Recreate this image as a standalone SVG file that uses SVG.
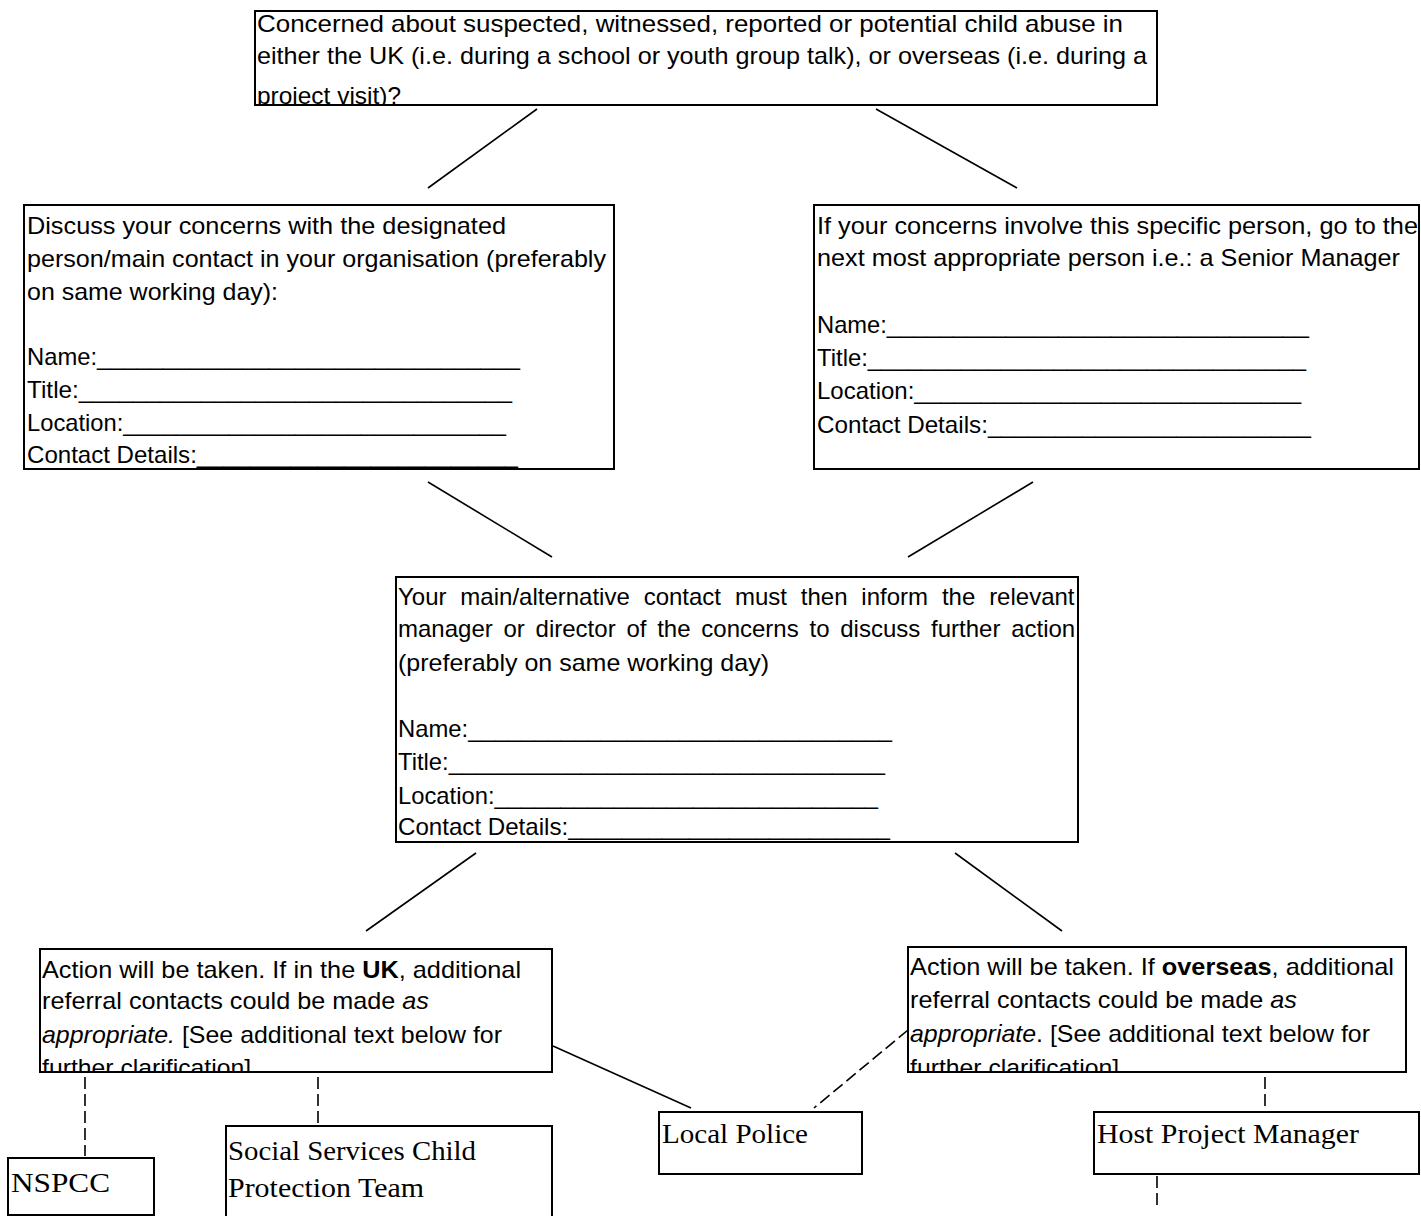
<svg xmlns="http://www.w3.org/2000/svg" width="1421" height="1216" viewBox="0 0 1421 1216">
<style>
.box{fill:#fff;stroke:#000;stroke-width:2}
.t{font-family:"Liberation Sans",Arial,sans-serif;font-size:24px;fill:#000}
.tr{font-family:"Liberation Serif","Times New Roman",serif;font-size:28px;fill:#000}
.c{stroke:#000;stroke-width:1.6;fill:none}
.d{stroke:#000;stroke-width:1.6;fill:none;stroke-dasharray:12 5}
</style>
<defs>
<clipPath id="clipTop"><rect x="255" y="11" width="902" height="94"/></clipPath>
<clipPath id="clipUK"><rect x="40" y="949" width="512" height="123"/></clipPath>
<clipPath id="clipOS"><rect x="908" y="947" width="498" height="125"/></clipPath>
</defs>
<rect width="1421" height="1216" fill="#fff"/>
<g id="connectors">
<line class="c" x1="537" y1="109" x2="428" y2="188"/>
<line class="c" x1="876" y1="109" x2="1017" y2="188"/>
<line class="c" x1="428" y1="482" x2="552" y2="557"/>
<line class="c" x1="1033" y1="482" x2="908" y2="557"/>
<line class="c" x1="476" y1="853" x2="366" y2="931"/>
<line class="c" x1="955" y1="853" x2="1062" y2="931"/>
<line class="c" x1="553" y1="1046" x2="691" y2="1108"/>
<line class="d" x1="908" y1="1030" x2="814" y2="1108"/>
<line class="d" x1="85" y1="1077" x2="85" y2="1156"/>
<line class="d" x1="318" y1="1077" x2="318" y2="1124"/>
<line class="d" x1="1265" y1="1077" x2="1265" y2="1110"/>
<line class="d" x1="1157" y1="1176" x2="1157" y2="1206"/>
</g>
<g id="n-top">
<rect class="box" x="255" y="11" width="902" height="94"/>
<g clip-path="url(#clipTop)">
<text class="t" x="257" y="32" textLength="866" lengthAdjust="spacingAndGlyphs">Concerned about suspected, witnessed, reported or potential child abuse in</text>
<text class="t" x="257" y="64" textLength="890" lengthAdjust="spacingAndGlyphs">either the UK (i.e. during a school or youth group talk), or overseas (i.e. during a</text>
<text class="t" x="257" y="104" textLength="144" lengthAdjust="spacingAndGlyphs">project visit)?</text>
</g>
<line x1="255" y1="105" x2="1157" y2="105" stroke="#000" stroke-width="2"/>
</g>
<g id="n-left">
<rect class="box" x="24" y="205" width="590" height="264"/>
<text class="t" x="27" y="234" textLength="479" lengthAdjust="spacingAndGlyphs">Discuss your concerns with the designated</text>
<text class="t" x="27" y="267" textLength="579" lengthAdjust="spacingAndGlyphs">person/main contact in your organisation (preferably</text>
<text class="t" x="27" y="300" textLength="251" lengthAdjust="spacingAndGlyphs">on same working day):</text>
<text class="t" x="27" y="365" textLength="493" lengthAdjust="spacingAndGlyphs">Name:________________________________</text>
<text class="t" x="27" y="398" textLength="485" lengthAdjust="spacingAndGlyphs">Title:________________________________</text>
<text class="t" x="27" y="431" textLength="479" lengthAdjust="spacingAndGlyphs">Location:_____________________________</text>
<text class="t" x="27" y="463" textLength="491" lengthAdjust="spacingAndGlyphs">Contact Details:________________________</text>
</g>
<g id="n-right">
<rect class="box" x="814" y="205" width="605" height="264"/>
<text class="t" x="817" y="234" textLength="601" lengthAdjust="spacingAndGlyphs">If your concerns involve this specific person, go to the</text>
<text class="t" x="817" y="266" textLength="583" lengthAdjust="spacingAndGlyphs">next most appropriate person i.e.: a Senior Manager</text>
<text class="t" x="817" y="333" textLength="492" lengthAdjust="spacingAndGlyphs">Name:________________________________</text>
<text class="t" x="817" y="366" textLength="489" lengthAdjust="spacingAndGlyphs">Title:_________________________________</text>
<text class="t" x="817" y="399" textLength="484" lengthAdjust="spacingAndGlyphs">Location:_____________________________</text>
<text class="t" x="817" y="433" textLength="494" lengthAdjust="spacingAndGlyphs">Contact Details:________________________</text>
</g>
<g id="n-middle">
<rect class="box" x="396" y="577" width="682" height="265"/>
<text class="t" x="398" y="605" word-spacing="7.2">Your main/alternative contact must then inform the relevant</text>
<text class="t" x="398" y="637" word-spacing="4.1">manager or director of the concerns to discuss further action</text>
<text class="t" x="398" y="671" textLength="371" lengthAdjust="spacingAndGlyphs">(preferably on same working day)</text>
<text class="t" x="398" y="737" textLength="494" lengthAdjust="spacingAndGlyphs">Name:________________________________</text>
<text class="t" x="398" y="770" textLength="487" lengthAdjust="spacingAndGlyphs">Title:_________________________________</text>
<text class="t" x="398" y="804" textLength="480" lengthAdjust="spacingAndGlyphs">Location:_____________________________</text>
<text class="t" x="398" y="835" textLength="492" lengthAdjust="spacingAndGlyphs">Contact Details:________________________</text>
</g>
<g id="n-action-uk">
<rect class="box" x="40" y="949" width="512" height="123"/>
<g clip-path="url(#clipUK)">
<text class="t" x="42" y="978" textLength="479" lengthAdjust="spacingAndGlyphs">Action will be taken. If in the <tspan font-weight="bold">UK</tspan>, additional</text>
<text class="t" x="42" y="1009" textLength="387" lengthAdjust="spacingAndGlyphs">referral contacts could be made <tspan font-style="italic">as</tspan></text>
<text class="t" x="42" y="1043" textLength="460" lengthAdjust="spacingAndGlyphs"><tspan font-style="italic">appropriate.</tspan> [See additional text below for</text>
<text class="t" x="42" y="1076" textLength="216" lengthAdjust="spacingAndGlyphs">further clarification].</text>
</g>
<line x1="40" y1="1072" x2="552" y2="1072" stroke="#000" stroke-width="2"/>
</g>
<g id="n-action-overseas">
<rect class="box" x="908" y="947" width="498" height="125"/>
<g clip-path="url(#clipOS)">
<text class="t" x="910" y="975" textLength="484" lengthAdjust="spacingAndGlyphs">Action will be taken. If <tspan font-weight="bold">overseas</tspan>, additional</text>
<text class="t" x="910" y="1008" textLength="387" lengthAdjust="spacingAndGlyphs">referral contacts could be made <tspan font-style="italic">as</tspan></text>
<text class="t" x="910" y="1042" textLength="460" lengthAdjust="spacingAndGlyphs"><tspan font-style="italic">appropriate</tspan>. [See additional text below for</text>
<text class="t" x="910" y="1076" textLength="216" lengthAdjust="spacingAndGlyphs">further clarification].</text>
</g>
<line x1="908" y1="1072" x2="1406" y2="1072" stroke="#000" stroke-width="2"/>
</g>
<g id="n-nspcc">
<rect class="box" x="8" y="1158" width="146" height="57"/>
<text class="tr" x="11" y="1192" textLength="99" lengthAdjust="spacingAndGlyphs">NSPCC</text>
</g>
<g id="n-social">
<rect class="box" x="226" y="1126" width="326" height="100"/>
<text class="tr" x="228" y="1160" textLength="248" lengthAdjust="spacingAndGlyphs">Social Services Child</text>
<text class="tr" x="228" y="1197" textLength="196" lengthAdjust="spacingAndGlyphs">Protection Team</text>
</g>
<g id="n-police">
<rect class="box" x="659" y="1112" width="203" height="62"/>
<text class="tr" x="662" y="1143" textLength="146" lengthAdjust="spacingAndGlyphs">Local Police</text>
</g>
<g id="n-host">
<rect class="box" x="1094" y="1112" width="325" height="62"/>
<text class="tr" x="1097" y="1143" textLength="262" lengthAdjust="spacingAndGlyphs">Host Project Manager</text>
</g>
</svg>
